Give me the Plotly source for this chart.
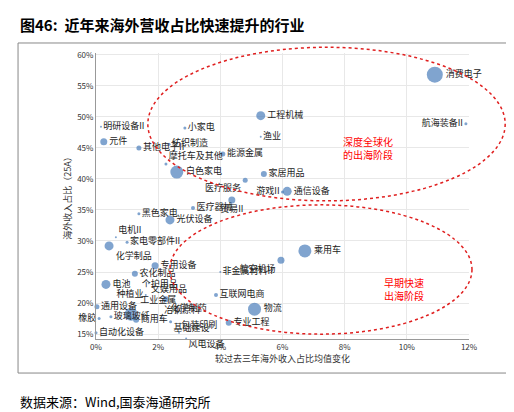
import plotly.graph_objects as go

names = ["消费电子", "航海装备II", "工程机械", "渔业", "明研设备II", "小家电", "元件", "其他电子II",
         "纺织制造", "能源金属", "摩托车及其他", "白色家电", "家居用品", "医疗服务", "游戏II", "通信设备",
         "贸易II", "医疗器械", "黑色家电", "光伏设备", "电机II", "家电零部件II", "化学制品", "乘用车",
         "航空机场", "专用设备", "非金属材料II", "农化制品", "电池", "文娱用品", "种植业", "化学制药",
         "个护用品", "互联网电商", "通用设备", "物流", "工业金属", "橡胶", "玻璃玻纤", "商用车",
         "冶钢原料", "基础建设", "专业工程", "自动化设备", "包装印刷", "风电设备"]
x_chg = [10.9, 11.9, 5.3, 5.3, 0.16, 2.86, 0.25, 1.38,
         2.35, 4.08, 2.25, 2.6, 5.4, 4.8, 6.0, 6.15,
         4.37, 3.12, 1.38, 2.38, 0.64, 1.0, 0.42, 6.72,
         5.95, 1.9, 4.0, 1.25, 0.32, 1.7, 1.6, 2.25,
         2.7, 3.86, 0.03, 5.1, 1.13, 0.1, 0.48, 1.29,
         2.1, 2.4, 4.27, 0.0, 2.67, 2.9]
y_share = [56.8, 48.9, 50.2, 46.8, 48.4, 48.2, 46.0, 45.0,
           45.6, 44.0, 42.4, 41.1, 40.8, 39.8, 37.9, 38.0,
           36.6, 35.3, 34.4, 33.4, 30.6, 29.8, 29.2, 28.4,
           26.9, 26.0, 25.0, 24.7, 23.0, 23.2, 21.3, 20.6,
           21.9, 21.3, 19.4, 19.0, 18.2, 17.5, 17.8, 17.3,
           17.6, 17.0, 16.8, 15.2, 15.2, 14.3]
sizes = [16, 3, 9, 2, 2, 3, 7, 5,
         3, 5, 3, 13, 6, 5, 3, 9,
         7, 4, 3, 9, 2, 3, 9, 13,
         7, 7, 2, 6, 9, 2, 2, 6,
         2, 4, 5, 13, 13, 3, 3, 6,
         3, 3, 6, 3, 2, 2]
label_pos = ["middle right"] * len(names)
for i, p in {1: "middle left", 14: "middle left", 16: "bottom center", 24: "bottom left",
             20: "top right", 22: "bottom right", 10: "top right", 30: "middle left",
             31: "bottom right", 32: "top left", 29: "bottom right", 40: "top right",
             41: "bottom right", 44: "top right", 45: "bottom right", 37: "middle left",
             36: "top right", 26: "middle right", 13: "bottom left", 7: "middle right"}.items():
    label_pos[i] = p

fig = go.Figure(go.Scatter(
    x=x_chg, y=y_share, mode="markers+text", text=names, textposition=label_pos,
    marker=dict(size=sizes, color="#4a7ebb", line=dict(width=0)),
    textfont=dict(size=9, color="#222"), cliponaxis=False,
))

fig.update_layout(
    width=514, height=412, margin=dict(l=88, r=53, t=45, b=81),
    paper_bgcolor="white", plot_bgcolor="white", showlegend=False,
    font=dict(family="Noto Sans CJK SC", size=8, color="#333"),
    xaxis=dict(range=[0, 12], dtick=2, ticksuffix="%", showgrid=True, gridcolor="#e8e8e8",
               zeroline=False, showline=True, linecolor="#999", automargin=False,
               title=dict(text="较过去三年海外收入占比均值变化", font=dict(size=9), standoff=4)),
    yaxis=dict(range=[14.2, 60.3], dtick=5, tick0=15, ticksuffix="%", showgrid=True, gridcolor="#e8e8e8",
               zeroline=False, showline=True, linecolor="#999", automargin=False,
               title=dict(text="海外收入占比（25A）", font=dict(size=9), standoff=4)),
)

dot = dict(color="#e02020", width=1.5, dash="dot")
fig.add_shape(type="circle", xref="paper", yref="paper", x0=0.139, x1=1.097, y0=0.483, y1=1.02, line=dot)
fig.add_shape(type="circle", xref="paper", yref="paper", x0=0.198, x1=1.008, y0=0.017, y1=0.469, line=dot)
fig.add_shape(type="rect", xref="paper", yref="paper", x0=-0.209, x1=1.118, y0=-0.119, y1=1.035,
              line=dict(color="#888", width=1))

fig.add_annotation(x=8.75, y=45, text="深度全球化<br>的出海阶段", showarrow=False,
                   font=dict(size=10, color="#ff0000"))
fig.add_annotation(x=9.9, y=22.3, text="早期快速<br>出海阶段", showarrow=False,
                   font=dict(size=10, color="#ff0000"))
fig.add_annotation(xref="paper", yref="paper", x=-0.21, y=1.1, xanchor="left", yanchor="middle",
                   text="<b>图46:  近年来海外营收占比快速提升的行业</b>", showarrow=False,
                   font=dict(size=15, color="#000"))
fig.add_annotation(xref="paper", yref="paper", x=-0.21, y=-0.22, xanchor="left", yanchor="middle",
                   text="数据来源：Wind,国泰海通研究所", showarrow=False,
                   font=dict(size=13, color="#000"))

fig.write_html("out.html")
